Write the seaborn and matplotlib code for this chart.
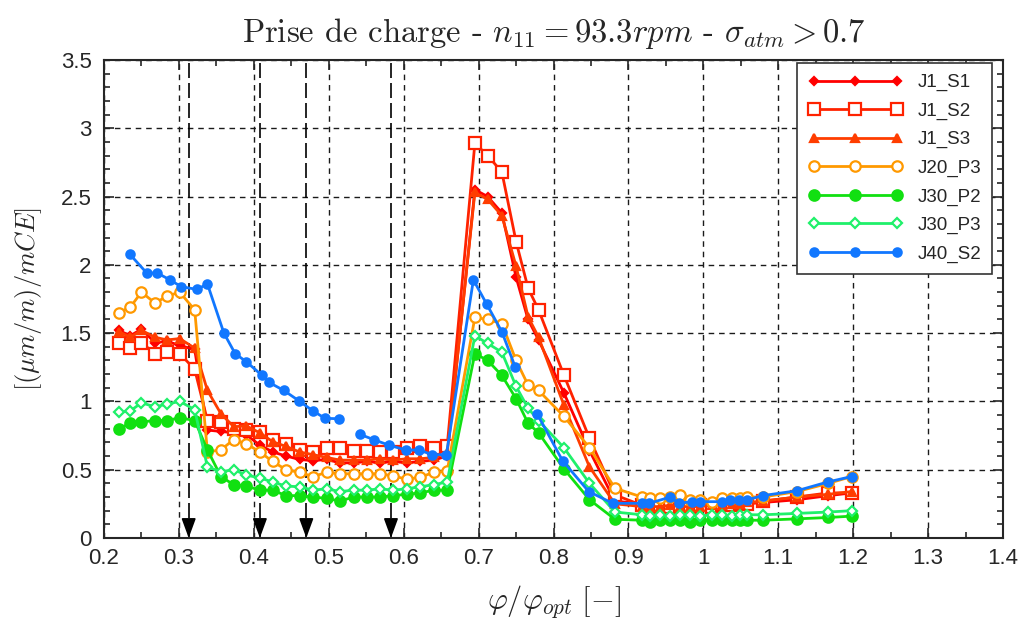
import numpy as np
import pandas as pd
import seaborn as sns
import matplotlib.pyplot as plt
from matplotlib.ticker import MultipleLocator, FuncFormatter

sns.set_style("ticks")
plt.rcParams['font.family'] = ['Liberation Sans', 'DejaVu Sans']
plt.rcParams['mathtext.fontset'] = 'cm'

# shared phi/phi_opt grid for the J1 / J20 / J30 series
phi_left = [0.22, 0.235, 0.25, 0.268, 0.284, 0.301, 0.321, 0.338, 0.356, 0.373, 0.39, 0.408, 0.425,
            0.443, 0.461, 0.479, 0.497, 0.515, 0.533, 0.551, 0.568, 0.586, 0.604, 0.622, 0.640, 0.658]
phi_peak = [0.695, 0.712, 0.731, 0.750, 0.766, 0.780, 0.814, 0.848, 0.882]
phi_right = [0.918, 0.929, 0.942, 0.956, 0.969, 0.982, 0.996, 1.011, 1.025, 1.038, 1.049, 1.058,
             1.080, 1.125, 1.167, 1.198]
phi = phi_left + phi_peak + phi_right

j1_s1 = [1.52, 1.48, 1.53, 1.43, 1.44, 1.41, 1.38, 0.79, 0.78, 0.77, 0.755, 0.68, 0.63, 0.60, 0.575,
         0.566, 0.575, 0.55, 0.55, 0.56, 0.55, 0.56, 0.55, 0.56, 0.57, 0.60,
         2.55, 2.50, 2.38, 1.91, 1.60, 1.45, 1.06, 0.64, 0.27,
         0.25, 0.24, 0.24, 0.24, 0.24, 0.24, 0.23, 0.23, 0.24, 0.24, 0.24, 0.25, 0.26, 0.28, 0.31, 0.33]
j1_s2 = [1.43, 1.39, 1.43, 1.35, 1.36, 1.35, 1.235, 0.86, 0.85, 0.80, 0.79, 0.775, 0.72, 0.69, 0.645,
         0.63, 0.66, 0.66, 0.64, 0.64, 0.63, 0.63, 0.66, 0.67, 0.66, 0.67,
         2.89, 2.80, 2.68, 2.17, 1.83, 1.67, 1.19, 0.73, 0.315,
         0.24, 0.23, 0.24, 0.23, 0.24, 0.23, 0.24, 0.23, 0.24, 0.24, 0.25, 0.25, 0.27, 0.30, 0.33, 0.33]
j1_s3 = [1.51, 1.47, 1.52, 1.47, 1.45, 1.46, 1.39, 1.08, 0.91, 0.815, 0.82, 0.77, 0.705, 0.67, 0.63,
         0.61, 0.59, 0.57, 0.57, 0.57, 0.58, 0.57, 0.58, 0.58, 0.59, 0.62,
         2.53, 2.48, 2.36, 1.99, 1.62, 1.47, 0.97, 0.52, 0.25,
         0.23, 0.23, 0.23, 0.24, 0.23, 0.23, 0.23, 0.24, 0.24, 0.25, 0.25, 0.26, 0.27, 0.30, 0.32, 0.34]
j20_p3 = [1.65, 1.69, 1.80, 1.72, 1.77, 1.80, 1.67, 0.63, 0.645, 0.72, 0.69, 0.63, 0.56, 0.50, 0.48,
          0.45, 0.48, 0.47, 0.47, 0.47, 0.47, 0.455, 0.43, 0.445, 0.48, 0.49,
          1.615, 1.60, 1.57, 1.30, 1.12, 1.08, 0.89, 0.66, 0.364,
          0.30, 0.29, 0.29, 0.30, 0.315, 0.28, 0.28, 0.266, 0.29, 0.29, 0.29, 0.30, 0.30, 0.34, 0.40, 0.45]
j30_p2 = [0.80, 0.84, 0.85, 0.86, 0.86, 0.88, 0.86, 0.645, 0.45, 0.39, 0.38, 0.35, 0.35, 0.31, 0.31,
          0.30, 0.29, 0.27, 0.30, 0.30, 0.30, 0.31, 0.32, 0.33, 0.35, 0.35,
          1.35, 1.30, 1.19, 1.02, 0.84, 0.77, 0.505, 0.28, 0.137,
          0.13, 0.12, 0.13, 0.13, 0.13, 0.12, 0.13, 0.13, 0.13, 0.13, 0.13, 0.13, 0.13, 0.14, 0.15, 0.16]
j30_p3 = [0.92, 0.93, 0.99, 0.96, 0.98, 1.00, 0.94, 0.52, 0.485, 0.50, 0.46, 0.44, 0.41, 0.38, 0.375,
          0.35, 0.36, 0.34, 0.35, 0.35, 0.36, 0.35, 0.36, 0.375, 0.39, 0.41,
          1.48, 1.425, 1.36, 1.11, 0.95, 0.86, 0.66, 0.40, 0.19,
          0.17, 0.16, 0.17, 0.16, 0.17, 0.17, 0.16, 0.17, 0.17, 0.16, 0.17, 0.17, 0.17, 0.18, 0.19, 0.20]

# J40_S2 has its own grid and two gaps (nan)
phi_j40 = [0.234, 0.257, 0.271, 0.288, 0.303, 0.324, 0.338, 0.360, 0.375, 0.390, 0.411, 0.420, 0.440,
           0.460, 0.479, 0.495, 0.514, 0.527, 0.541, 0.560, 0.580, 0.603, 0.621, 0.638, 0.657,
           0.693, 0.711, 0.731, 0.749, 0.765, 0.778, 0.812, 0.847, 0.879, 0.918, 0.928, 0.956, 0.967,
           0.985, 0.996, 1.025, 1.036, 1.047, 1.058, 1.079, 1.125, 1.166, 1.198]
j40_s2 = [2.08, 1.94, 1.94, 1.89, 1.84, 1.82, 1.86, 1.50, 1.35, 1.29, 1.19, 1.14, 1.08,
          1.005, 0.93, 0.876, 0.873, np.nan, 0.76, 0.72, 0.68, 0.644, 0.644, 0.61, 0.61,
          1.89, 1.71, 1.51, 1.25, np.nan, 0.91, 0.566, 0.34, 0.254, 0.254, 0.254, 0.30, 0.254,
          0.266, 0.266, 0.266, 0.278, 0.278, 0.278, 0.31, 0.346, 0.41, 0.45]

arrow_x = [0.313, 0.408, 0.470, 0.583]

series = [
    ("J1_S1", phi, j1_s1, "#ff0000", "D", 4, None),
    ("J1_S2", phi, j1_s2, "#ff2200", "s", 8, "white"),
    ("J1_S3", phi, j1_s3, "#ff3d00", "^", 6, None),
    ("J20_P3", phi, j20_p3, "#ff9900", "o", 7.5, "white"),
    ("J30_P2", phi, j30_p2, "#11e011", "o", 7.5, None),
    ("J30_P3", phi, j30_p3, "#1ff06a", "D", 5, "white"),
    ("J40_S2", phi_j40, j40_s2, "#1177ff", "o", 6, None),
]

fig = plt.figure(figsize=(10.21, 6.29), dpi=100)
ax = fig.add_axes([0.1019, 0.1447, 0.8805, 0.760])

for name, xs, ys, col, mk, ms, face in series:
    df = pd.DataFrame({"phi": xs, "val": ys})
    df["seg"] = df["val"].isna().cumsum()
    df = df.dropna()
    sns.lineplot(data=df, x="phi", y="val", units="seg", estimator=None, sort=False, ax=ax,
                 color=col, lw=2, marker=mk, markersize=ms, markeredgewidth=1.6,
                 markeredgecolor=col, markerfacecolor=face if face else col,
                 label=name, legend=False)

for xa in arrow_x:
    ax.axvline(xa, color="k", lw=1.2, ls=(0, (9, 3)), zorder=1)
    ax.annotate("", xy=(xa, 0.0), xytext=(xa, 0.12),
                arrowprops=dict(arrowstyle="-|>,head_length=0.6,head_width=0.22",
                                color="k", lw=1.2, mutation_scale=20, shrinkA=0, shrinkB=0))

ax.set_xlim(0.2, 1.4)
ax.set_ylim(0, 3.5)
ax.xaxis.set_major_locator(MultipleLocator(0.1))
ax.xaxis.set_minor_locator(MultipleLocator(0.05))
ax.yaxis.set_major_locator(MultipleLocator(0.5))
ax.yaxis.set_minor_locator(MultipleLocator(0.1))
fmt = FuncFormatter(lambda v, p: f"{v:.1f}".rstrip("0").rstrip("."))
ax.xaxis.set_major_formatter(fmt)
ax.yaxis.set_major_formatter(fmt)
ax.tick_params(which="both", direction="in", top=True, right=True, width=1.2, labelsize=16)
ax.tick_params(axis="x", which="major", pad=7)
ax.tick_params(axis="y", which="major", pad=9)
ax.tick_params(which="major", length=7)
ax.tick_params(which="minor", length=4)
for s in ax.spines.values():
    s.set_linewidth(1.5)
ax.grid(True, which="major", color="#1a1a1a", ls=(0, (4, 3.5)), lw=1.0)

ax.set_xlabel(r"$\varphi/\varphi_{opt}\ [-]$", fontsize=22, labelpad=10)
ax.set_ylabel(r"$[(\mu m/m)/mCE]$", fontsize=19, labelpad=12)
ax.set_title(r"Prise de charge - $n_{11} = 93.3rpm$ - $\sigma_{atm} > 0.7$",
             family=["cmr10", "DejaVu Serif"], fontsize=23.5, pad=13)

handles, labels = ax.get_legend_handles_labels()
uniq = dict(zip(labels, handles))
leg = ax.legend(uniq.values(), uniq.keys(), loc="upper right", bbox_to_anchor=(0.988, 0.994),
                borderaxespad=0, fontsize=13.5, numpoints=3, handlelength=5, handletextpad=0.8,
                labelspacing=0.6, borderpad=0.6, fancybox=False, framealpha=1, edgecolor="#333333")
leg.get_frame().set_linewidth(1.2)

fig.savefig("out.png", dpi=100)
